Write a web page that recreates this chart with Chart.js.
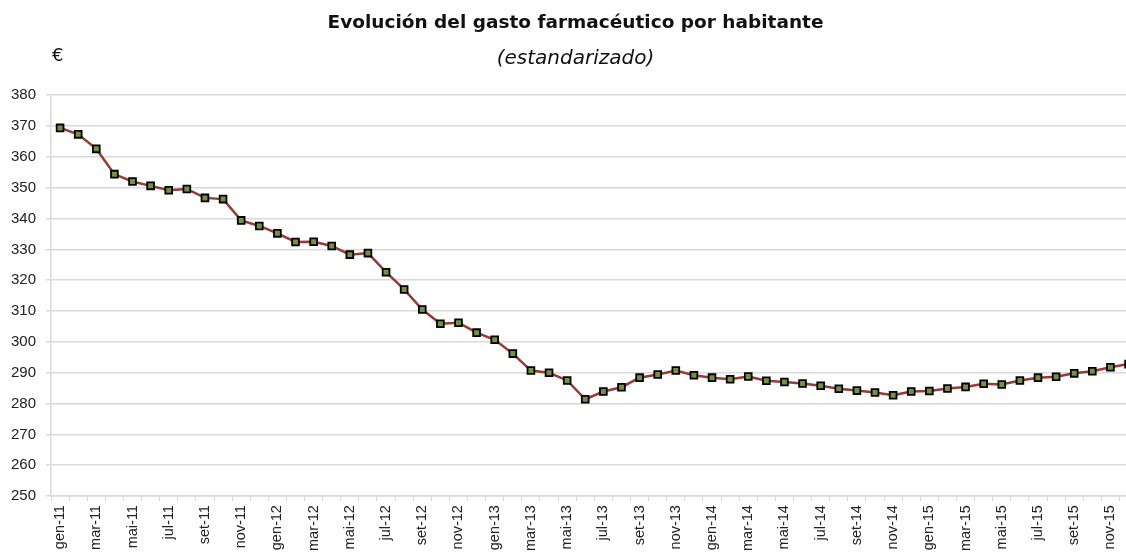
<!DOCTYPE html>
<html>
<head>
<meta charset="utf-8">
<script src="https://cdn.jsdelivr.net/npm/chart.js@4/dist/chart.umd.min.js"></script>
<style>
    body { margin: 0; background: white; overflow: hidden; }
    #wrap { position: relative; width: 1150px; height: 556px; }
    #euro { position: absolute; left: 52px; top: 44px; font: 18px "DejaVu Sans", sans-serif; color: #111; }
</style>
</head>
<body>
<div id="wrap">
    <canvas id="chart-gasto"></canvas>
    <div id="euro">€</div>
</div>
<script>
// Months (Catalan abbreviations) and years on the x axis
const monthNames = ['gen', 'feb', 'mar', 'abr', 'mai', 'jun', 'jul', 'ago', 'set', 'oct', 'nov', 'des'];
const years = ['11', '12', '13', '14', '15'];

// Gasto farmacéutico por habitante (€), one value per month, gen-11 .. des-15
const gasto = [
    369.4, 367.3, 362.6, 354.4, 352.0, 350.6, 349.2, 349.6, 346.7, 346.3, 339.4, 337.6,
    335.2, 332.4, 332.5, 331.1, 328.3, 328.8, 322.6, 317.0, 310.5, 305.9, 306.2, 303.0,
    300.7, 296.2, 290.7, 290.0, 287.5, 281.4, 283.9, 285.3, 288.4, 289.4, 290.7, 289.2,
    288.4, 287.9, 288.8, 287.4, 287.0, 286.5, 285.8, 284.8, 284.2, 283.6, 282.7, 283.9,
    284.1, 284.9, 285.4, 286.4, 286.2, 287.5, 288.4, 288.7, 289.8, 290.5, 291.8, 292.8
];

const categories = [];
years.forEach(y => monthNames.forEach(m => categories.push(m + '-' + y)));

const ctx = document.getElementById('chart-gasto');

new Chart(ctx, {
    type: 'line',
    data: {
        labels: categories,
        datasets: [{
            label: 'Gasto por habitante',
            data: gasto,
            borderColor: '#983a36',
            borderWidth: 2.5,
            tension: 0,
            pointStyle: 'rect',
            pointRadius: 4.8,
            pointBackgroundColor: '#76923c',
            pointBorderColor: '#000',
            pointBorderWidth: 1.8
        }]
    },
    options: {
        responsive: true,
        maintainAspectRatio: false,
        animation: false,
        layout: { padding: { left: 1, right: 0, top: 0, bottom: 1 } },
        plugins: {
            legend: { display: false },
            tooltip: { enabled: false },
            title: {
                display: true,
                text: 'Evolución del gasto farmacéutico por habitante',
                color: '#111',
                font: { family: '"DejaVu Sans", sans-serif', size: 18.5, weight: 'bold' },
                padding: { top: 12, bottom: 4 }
            },
            subtitle: {
                display: true,
                text: '(estandarizado)',
                color: '#111',
                font: { family: '"DejaVu Sans", sans-serif', size: 20, style: 'italic' },
                padding: { top: 9, bottom: 24 }
            }
        },
        scales: {
            x: {
                offset: true,
                grid: {
                    offset: true,
                    drawOnChartArea: false,
                    color: '#d9d9d9',
                    tickLength: 5
                },
                border: { color: '#d9d9d9', width: 1.5 },
                ticks: {
                    autoSkip: false,
                    maxRotation: 90,
                    minRotation: 90,
                    padding: 4,
                    color: '#222',
                    font: { family: '"Liberation Sans", Arial, sans-serif', size: 14.5 },
                    callback: function (val, idx) {
                        return idx % 2 === 0 ? this.getLabelForValue(val) : '';
                    }
                }
            },
            y: {
                min: 250,
                max: 380,
                grid: { color: '#d9d9d9', lineWidth: 1.5, tickLength: 5 },
                border: { color: '#d9d9d9', width: 1.5 },
                ticks: {
                    stepSize: 10,
                    padding: 10,
                    color: '#222',
                    font: { family: '"Liberation Sans", Arial, sans-serif', size: 15 }
                }
            }
        }
    }
});
</script>
</body>
</html>
